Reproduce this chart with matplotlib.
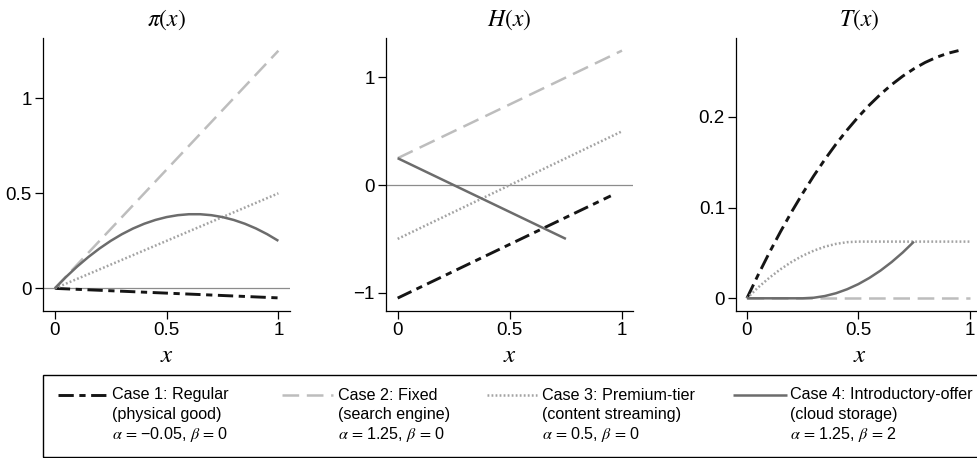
import matplotlib
matplotlib.use("Agg")
import matplotlib.pyplot as plt
from matplotlib.lines import Line2D
from matplotlib.patches import Rectangle

plt.rcParams['font.family'] = ['Liberation Sans', 'DejaVu Sans']
plt.rcParams['mathtext.fontset'] = 'stix'
plt.rcParams['lines.scale_dashes'] = False
plt.rcParams['axes.unicode_minus'] = True

# valores
x_curve = [0, 0.05, 0.1, 0.15, 0.2, 0.25, 0.3, 0.35, 0.4, 0.45, 0.5,
           0.55, 0.6, 0.65, 0.7, 0.75, 0.8, 0.85, 0.9, 0.95, 1.0]

# pi(x)
pi_x_lin = [0, 1]
pi_case1 = [0, -0.05]
pi_case2 = [0, 1.25]
pi_case3 = [0, 0.5]
pi_case4 = [0, 0.06, 0.115, 0.165, 0.21, 0.25, 0.285, 0.315, 0.34, 0.36, 0.375,
            0.385, 0.39, 0.39, 0.385, 0.375, 0.36, 0.34, 0.315, 0.285, 0.25]

# H(x)
h_x_case1 = [0, 0.95]
h_case1 = [-1.05, -0.1]
h_x_case2 = [0, 1]
h_case2 = [0.25, 1.25]
h_x_case3 = [0, 1]
h_case3 = [-0.5, 0.5]
h_x_case4 = [0, 0.75]
h_case4 = [0.25, -0.5]

# T(x)
t_x_case1 = x_curve[:20]
t_case1 = [0, 0.0256, 0.05, 0.0731, 0.095, 0.1156, 0.135, 0.1531, 0.17, 0.1856,
           0.2, 0.2131, 0.225, 0.2356, 0.245, 0.2531, 0.26, 0.2656, 0.27, 0.2731]
t_x_case2 = [0, 1]
t_case2 = [0, 0]
t_x_case3 = x_curve[:11] + [1.0]
t_case3 = [0, 0.0119, 0.0225, 0.0319, 0.04, 0.0469, 0.0525, 0.0569, 0.06, 0.0619,
           0.0625, 0.0625]
t_x_case4 = x_curve[:16]
t_case4 = [0, 0, 0, 0, 0, 0, 0.000625, 0.0025, 0.0056, 0.01, 0.0156,
           0.0225, 0.0306, 0.04, 0.0506, 0.0625]

titulos = [r'$\pi(x)$', r'$H(x)$', r'$T(x)$']
yticks = [[0, 0.5, 1], [-1, 0, 1], [0, 0.1, 0.2]]
ytick_labels = [['0', '0.5', '1'], ['\u22121', '0', '1'], ['0', '0.1', '0.2']]
xticks = [0, 0.5, 1]
xtick_labels = ['0', '0.5', '1']

casos = ['Case 1: Regular', 'Case 2: Fixed', 'Case 3: Premium-tier', 'Case 4: Introductory-offer']
ejemplos = ['(physical good)', '(search engine)', '(content streaming)', '(cloud storage)']
parametros = ['$\\alpha\\,=\\,$\u22120.05, $\\beta\\,=\\,$0', '$\\alpha\\,=\\,$1.25, $\\beta\\,=\\,$0',
              '$\\alpha\\,=\\,$0.5, $\\beta\\,=\\,$0', '$\\alpha\\,=\\,$1.25, $\\beta\\,=\\,$2']

# estilos de linea por caso
estilos = [
    dict(color='#151515', lw=2.1, dashes=(11, 4, 4.5, 4)),
    dict(color='#bdbdbd', lw=1.8, dashes=(12, 5.5)),
    dict(color='#a3a3a3', lw=1.8, dashes=(1.3, 1.6)),
    dict(color='#6c6c6c', lw=1.8),
]

W, H = 978, 458
fig = plt.figure(figsize=(W / 100, H / 100), dpi=100)

# posiciones de los ejes en pixeles (izq, arriba, der, abajo)
cajas = [(43, 38, 290, 311), (386, 38, 633, 311), (736, 38, 983, 311)]
xlims = [(-0.053, 1.052), (-0.052, 1.049), (-0.049, 1.06)]
ylims = [(-0.119, 1.317), (-1.170, 1.367), (-0.014, 0.287)]

datos = [
    [(pi_x_lin, pi_case1), (pi_x_lin, pi_case2), (pi_x_lin, pi_case3), (x_curve, pi_case4)],
    [(h_x_case1, h_case1), (h_x_case2, h_case2), (h_x_case3, h_case3), (h_x_case4, h_case4)],
    [(t_x_case1, t_case1), (t_x_case2, t_case2), (t_x_case3, t_case3), (t_x_case4, t_case4)],
]

for i in range(3):
    l, t, r, b = cajas[i]
    ax = fig.add_axes([l / W, 1 - b / H, (r - l) / W, (b - t) / H])
    if i < 2:
        ax.axhline(0, color='#8c8c8c', lw=0.9, zorder=1)
    for k in range(4):
        xs, ys = datos[i][k]
        ax.plot(xs, ys, solid_capstyle='butt', dash_capstyle='butt', **estilos[k])
    ax.set_xlim(*xlims[i])
    ax.set_ylim(*ylims[i])
    ax.set_xticks(xticks)
    ax.set_xticklabels(xtick_labels)
    ax.set_yticks(yticks[i])
    ax.set_yticklabels(ytick_labels[i])
    ax.spines['top'].set_visible(False)
    ax.spines['right'].set_visible(False)
    for s in ['left', 'bottom']:
        ax.spines[s].set_linewidth(0.9)
    ax.tick_params(direction='out', length=6, width=0.9, labelsize=13.5, pad=2)
    ax.set_title(titulos[i], fontsize=17, pad=9)
    ax.set_xlabel(r'$x$', fontsize=18, labelpad=3)

# leyenda dibujada a mano
fig.add_artist(Rectangle((43 / W, 1 - 457 / H), 1.0, (457 - 375) / H,
                         transform=fig.transFigure, fill=False, lw=1.0, ec='black'))
handle_x = [(58, 107), (282, 333), (487, 537), (733, 787)]
texto_x = [112, 338, 542, 790]
lineas_y = [395, 415, 435]
for k in range(4):
    x0, x1 = handle_x[k]
    fig.add_artist(Line2D([x0 / W, x1 / W], [1 - lineas_y[0] / H] * 2,
                          transform=fig.transFigure, solid_capstyle='butt',
                          dash_capstyle='butt', **estilos[k]))
    for j, txt in enumerate([casos[k], ejemplos[k], parametros[k]]):
        fig.text(texto_x[k] / W, 1 - lineas_y[j] / H, txt, fontsize=11.6,
                 va='center', ha='left')

fig.savefig('out.png', dpi=100)
